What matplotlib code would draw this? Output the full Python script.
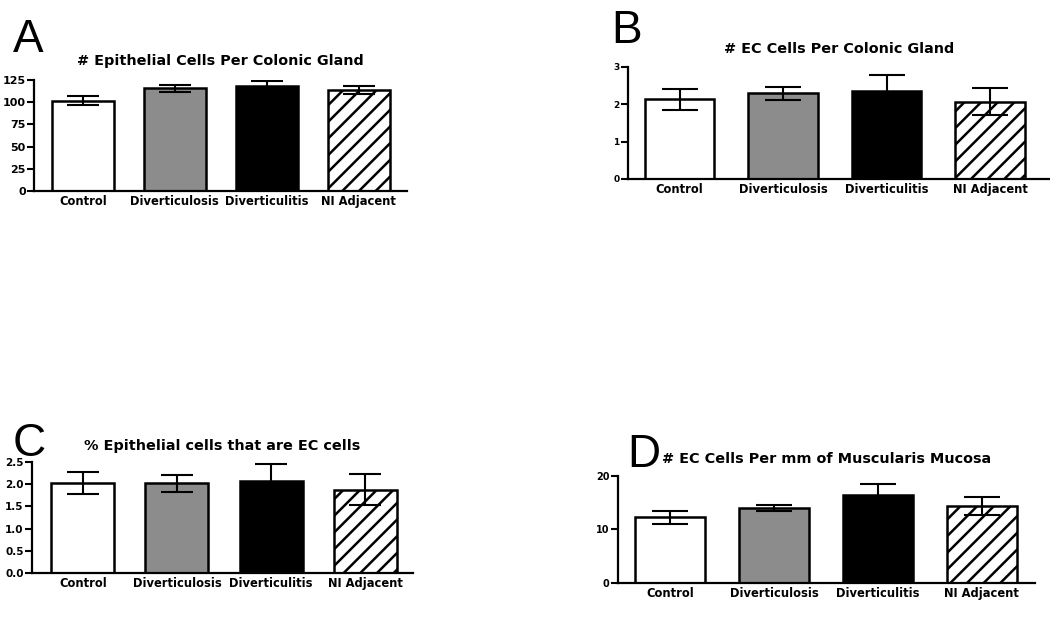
import matplotlib.pyplot as plt
import numpy as np

plt.rcParams['font.family'] = ['DejaVu Sans']
plt.rcParams['font.weight'] = 'bold'
plt.rcParams['hatch.linewidth'] = 1.8

# data
groups = ["Control", "Diverticulosis", "Diverticulitis", "NI Adjacent"]

epi_mean = [102, 116, 118, 114]
epi_err = [5, 4, 6, 4.5]

ec_mean = [2.13, 2.29, 2.36, 2.07]
ec_err = [0.28, 0.17, 0.43, 0.36]

pct_mean = [2.03, 2.02, 2.08, 1.88]
pct_err = [0.25, 0.19, 0.38, 0.35]

mm_mean = [12.3, 14.0, 16.5, 14.4]
mm_err = [1.2, 0.5, 1.9, 1.7]

fills = ["white", "#8c8c8c", "black", "white"]
hatches = ["", "", "", "//"]

fig = plt.figure(figsize=(10.5, 6.23), dpi=100)


def panel(rect, means, errs, title, yticks, ylim, xlim, ylab_fmt, tick_fs, capsize, tpad):
    ax = fig.add_axes(rect)
    x = np.arange(len(groups))
    for i in range(len(groups)):
        ax.bar(x[i], means[i], width=0.67, color=fills[i], edgecolor="black",
               linewidth=1.8, hatch=hatches[i], zorder=2)
    ax.errorbar(x, means, yerr=errs, fmt="none", ecolor="black", elinewidth=1.5,
                capsize=capsize, capthick=1.5, zorder=3)
    ax.set_xlim(*xlim)
    ax.set_ylim(*ylim)
    ax.set_yticks(yticks)
    ax.set_yticklabels([ylab_fmt.format(v) for v in yticks], fontsize=tick_fs, fontweight="bold")
    ax.set_xticks(x)
    ax.set_xticklabels(groups, fontsize=8.3, fontweight="bold")
    ax.tick_params(axis="x", length=0, pad=3)
    ax.tick_params(axis="y", length=5, width=1.5, pad=1)
    for s in ["top", "right"]:
        ax.spines[s].set_visible(False)
    for s in ["left", "bottom"]:
        ax.spines[s].set_linewidth(1.6)
    ax.set_title(title, fontsize=10.4, fontweight="bold", pad=tpad)
    return ax


panel([0.0324, 0.6934, 0.355, 0.178], epi_mean, epi_err,
      "# Epithelial Cells Per Colonic Gland", [0, 25, 50, 75, 100, 125], (0, 125),
      (-0.53, 3.52), "{:g}", 8, 11.5, 11)
panel([0.598, 0.7127, 0.402, 0.180], ec_mean, ec_err,
      "# EC Cells Per Colonic Gland", [0, 1, 2, 3], (0, 3),
      (-0.5, 3.58), "{:g}", 6.5, 13, 10)
panel([0.0305, 0.0803, 0.363, 0.178], pct_mean, pct_err,
      "% Epithelial cells that are EC cells", [0, 0.5, 1.0, 1.5, 2.0, 2.5], (0, 2.5),
      (-0.54, 3.51), "{:.1f}", 7.5, 11.5, 9)
panel([0.5886, 0.0642, 0.397, 0.172], mm_mean, mm_err,
      "# EC Cells Per mm of Muscularis Mucosa", [0, 10, 20], (0, 20),
      (-0.5, 3.51), "{:g}", 7, 13, 9)

for lbl, x, y in [("A", 0.012, 0.917), ("B", 0.582, 0.931), ("C", 0.012, 0.268), ("D", 0.597, 0.25)]:
    fig.text(x, y, lbl, fontsize=33, fontweight="normal", family="Liberation Sans")

fig.savefig("out.png", dpi=100)
